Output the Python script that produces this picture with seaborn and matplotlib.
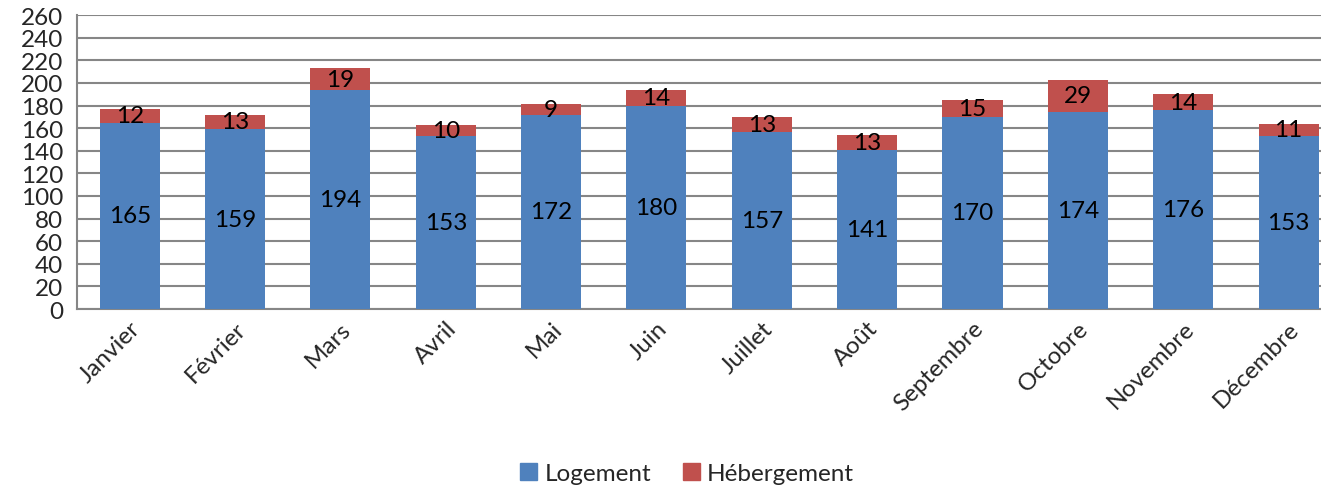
import matplotlib
matplotlib.use('Agg')
import matplotlib.pyplot as plt
import seaborn as sns
import pandas as pd
from matplotlib.patches import Patch

# données
mois = ['Janvier', 'Février', 'Mars', 'Avril', 'Mai', 'Juin', 'Juillet',
        'Août', 'Septembre', 'Octobre', 'Novembre', 'Décembre']
logement = [165, 159, 194, 153, 172, 180, 157, 141, 170, 174, 176, 153]
hebergement = [12, 13, 19, 10, 9, 14, 13, 13, 15, 29, 14, 11]

bleu = '#4F81BD'
rouge = '#C0504D'
gris = '#868686'
taille = 17.5

df = pd.DataFrame({'Mois': mois, 'Logement': logement, 'Hébergement': hebergement})
df['Total'] = df['Logement'] + df['Hébergement']

sns.set_style('white')
plt.rcParams['font.family'] = ['Lato', 'DejaVu Sans']

fig = plt.figure(figsize=(13.21, 4.89), dpi=100)
ax = fig.add_axes([0.0583, 0.366, 0.957, 0.601])

# barres empilées : total (rouge) puis logement (bleu) par-dessus
sns.barplot(data=df, x='Mois', y='Total', color=rouge, width=0.57,
            saturation=1, linewidth=0, ax=ax, zorder=2)
sns.barplot(data=df, x='Mois', y='Logement', color=bleu, width=0.57,
            saturation=1, linewidth=0, ax=ax, zorder=3)

# étiquettes au centre de chaque segment
for i, row in df.iterrows():
    ax.text(i, row['Logement'] / 2, str(row['Logement']), ha='center', va='center',
            fontsize=taille, color='black', zorder=4)
    ax.text(i, row['Logement'] + row['Hébergement'] / 2, str(row['Hébergement']),
            ha='center', va='center', fontsize=taille, color='black', zorder=4)

ax.set_ylim(0, 260)
ax.set_yticks(range(0, 261, 20))
ax.set_xlim(-0.5, len(mois) - 0.5)
ax.yaxis.grid(True, color=gris, linewidth=1.5, zorder=0)
ax.set_axisbelow(True)
ax.set_xlabel('')
ax.set_ylabel('')

for s in ['top', 'right']:
    ax.spines[s].set_visible(False)
for s in ['left', 'bottom']:
    ax.spines[s].set_color(gris)
    ax.spines[s].set_linewidth(1.5)

ax.tick_params(axis='y', length=0, labelsize=taille, pad=10)
ax.tick_params(axis='x', length=0, labelsize=taille, pad=6)
plt.setp(ax.get_xticklabels(), rotation=45, ha='right', rotation_mode='anchor')

handles = [Patch(color=bleu, label='Logement'), Patch(color=rouge, label='Hébergement')]
fig.legend(handles=handles, loc='center', bbox_to_anchor=(0.52, 0.03), ncol=2,
           frameon=False, fontsize=taille, handlelength=0.7, handleheight=0.7,
           handletextpad=0.3, columnspacing=1.3)

fig.savefig('out.png', dpi=100)
